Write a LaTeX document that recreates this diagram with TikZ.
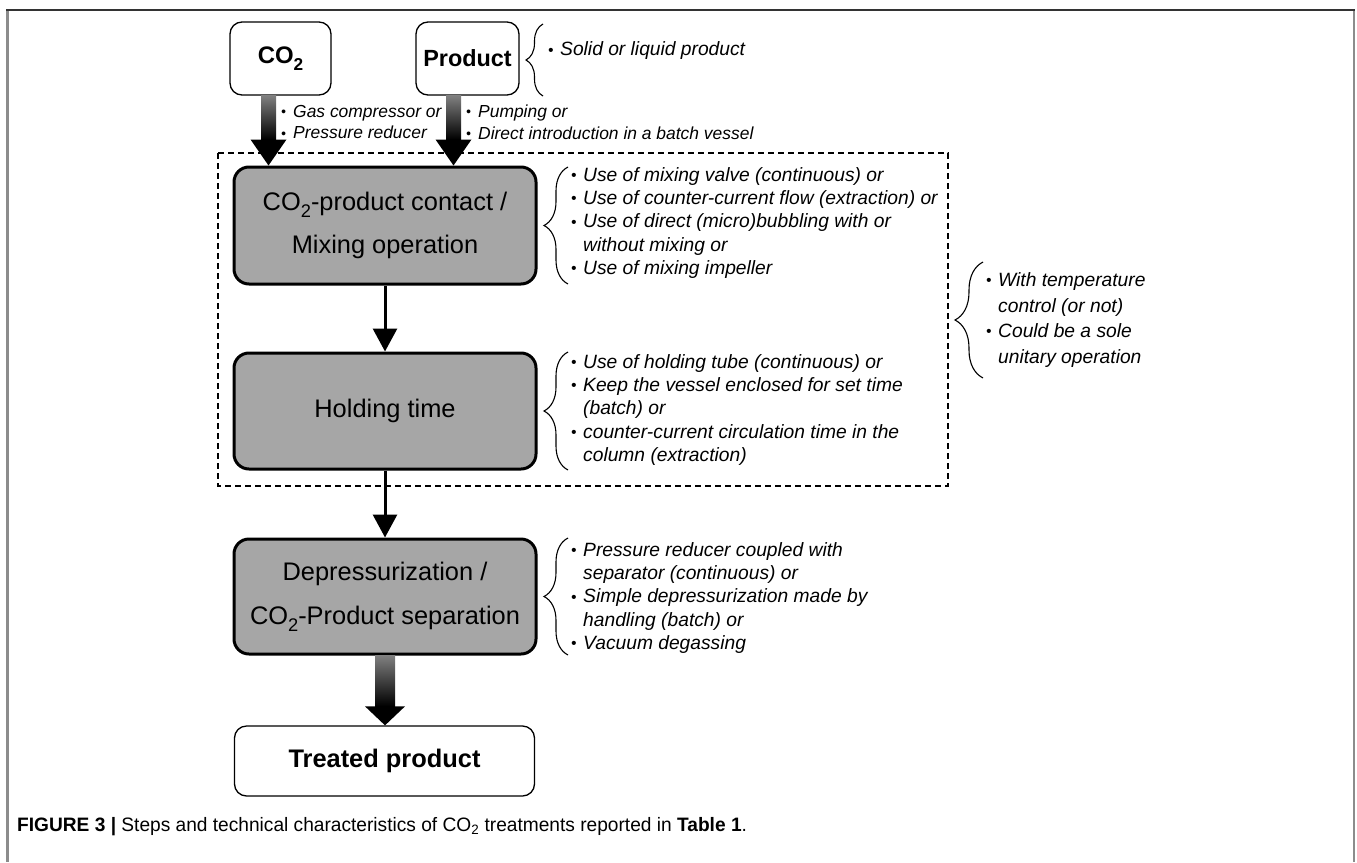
\documentclass[tikz,border=0pt]{standalone}
\usepackage{fontspec}
\setmainfont{Liberation Sans}
\usetikzlibrary{calc,arrows.meta,decorations.pathreplacing}
\newcommand\subtwo{\raisebox{-0.28em}{\scalebox{0.72}{2}}}
\newcommand\bul{\makebox[12bp][l]{\raisebox{0.05em}{\scalebox{0.8}{•}}}}
\newcommand\ind{\hspace*{12bp}}
\tikzset{
  x=1bp, y=-1bp,
  stepbox/.style={draw=black, line width=3bp, rounded corners=15bp, fill=black!35, inner sep=0pt,
     minimum width=302bp, align=center, font=\fontsize{25.5}{44}\selectfont},
  endbox/.style={draw=black, line width=1.3bp, rounded corners=12bp, fill=white, inner sep=0pt,
     font=\bfseries\fontsize{25.5}{28}\selectfont},
  note/.style={inner sep=0pt, align=left, font=\itshape\fontsize{19.3}{23.2}\selectfont},
  brc/.style={decorate, decoration={brace, amplitude=#1}, line width=1.1bp},
  thin arrow/.style={line width=3bp, -{Triangle[width=24bp,length=23bp]}},
  shaft/.style={top color=black!50, bottom color=black}
}
\begin{document}
\begin{tikzpicture}
\useasboundingbox (0,0) rectangle (1357,862);
% frame
\draw[black!45, line width=2.5bp] (7.5,10) -- (7.5,862);
\draw[black!45, line width=2.5bp] (1354,10) -- (1354,862);
\draw[black!80, line width=1.5bp] (6.25,10) -- (1355.25,10);

% dashed region
\draw[dashed, dash pattern=on 6bp off 4bp, line width=1.4bp] (218,153) rectangle (948,486);

% nodes
\node[endbox, minimum width=101bp, minimum height=73bp, font=\bfseries\fontsize{24}{28}\selectfont] (co2) at (280.5,58.5) {CO\subtwo};
\node[endbox, minimum width=103bp, minimum height=73bp, font=\bfseries\fontsize{23.5}{28}\selectfont] (prod) at (467.5,58.5) {Product};
\node[stepbox, minimum height=117bp] (mix) at (385,225.5) {CO\subtwo-product contact /\\Mixing operation};
\node[stepbox, minimum height=116bp] (hold) at (385,411) {Holding time};
\node[stepbox, minimum height=115bp] (dep) at (385,596.5) {Depressurization /\\CO\subtwo-Product separation};
\node[endbox, minimum width=300bp, minimum height=70bp] (treat) at (384.5,761) {Treated product};

% big arrows from inputs
\coordinate (t1) at ($(co2.south)+(-12,0)$);
\coordinate (h1) at (t1 |- mix.north);
\shade[shaft] ($(t1)+(-7.5,0)$) rectangle ($(h1)+(7.5,-26)$);
\fill ($(h1)+(-18,-26)$) -- ($(h1)+(18,-26)$) -- (h1) -- cycle;
\coordinate (t2) at ($(prod.south)+(-14,0)$);
\coordinate (h2) at (t2 |- mix.north);
\shade[shaft] ($(t2)+(-7.5,0)$) rectangle ($(h2)+(7.5,-26)$);
\fill ($(h2)+(-18,-26)$) -- ($(h2)+(18,-26)$) -- (h2) -- cycle;
% big arrow to treated product
\coordinate (t3) at (dep.south);
\coordinate (h3) at (t3 |- treat.north);
\shade[shaft] ($(t3)+(-10,0)$) rectangle ($(h3)+(10,-19)$);
\fill ($(h3)+(-20,-19)$) -- ($(h3)+(20,-19)$) -- (h3) -- cycle;

% thin arrows
\draw[thin arrow] (mix.south) -- (hold.north);
\draw[thin arrow] (hold.south) -- (dep.north);

% arrow notes
\node[note, anchor=west, font=\itshape\fontsize{17.5}{22}\selectfont] (n1) at (281,122) {\bul Gas compressor or\\\bul Pressure reducer};
\node[note, anchor=west, font=\itshape\fontsize{17.5}{22}\selectfont] (n2) at (466,122) {\bul Pumping or\\\bul Direct introduction in a batch vessel};

% braces and notes
\draw[brc=17bp] (543,96) -- (543,24);
\node[note, anchor=west] (n3) at (548,51) {\bul Solid or liquid product};

\draw[brc=24bp] (568,284) -- (568,167);
\node[note, anchor=west] (n4) at (571,223) {\bul Use of mixing valve (continuous) or\\\bul Use of counter-current flow (extraction) or\\\bul Use of direct (micro)bubbling with or\\\ind without mixing or\\\bul Use of mixing impeller};

\draw[brc=24bp] (568,470) -- (568,352);
\node[note, anchor=west] (n5) at (571,410) {\bul Use of holding tube (continuous) or\\\bul Keep the vessel enclosed for set time\\\ind (batch) or\\\bul counter-current circulation time in the\\\ind column (extraction)};

\draw[brc=24bp] (568,655) -- (568,538);
\node[note, anchor=west] (n6) at (571,598) {\bul Pressure reducer coupled with\\\ind separator (continuous) or\\\bul Simple depressurization made by\\\ind handling (batch) or\\\bul Vacuum degassing};

\draw[brc=28bp] (983,378) -- (983,262);
\node[note, anchor=west, font=\itshape\fontsize{19.3}{26}\selectfont] (n7) at (986,320) {\bul With temperature\\\ind control (or not)\\\bul Could be a sole\\\ind unitary operation};

% caption
\node[anchor=west, inner sep=0pt, font=\fontsize{19.5}{22}\selectfont, xscale=0.985] (cap) at (17,827)
  {\textbf{FIGURE 3 |} Steps and technical characteristics of CO\textsubscript{2} treatments reported in \textbf{Table 1}.};
\end{tikzpicture}
\end{document}
